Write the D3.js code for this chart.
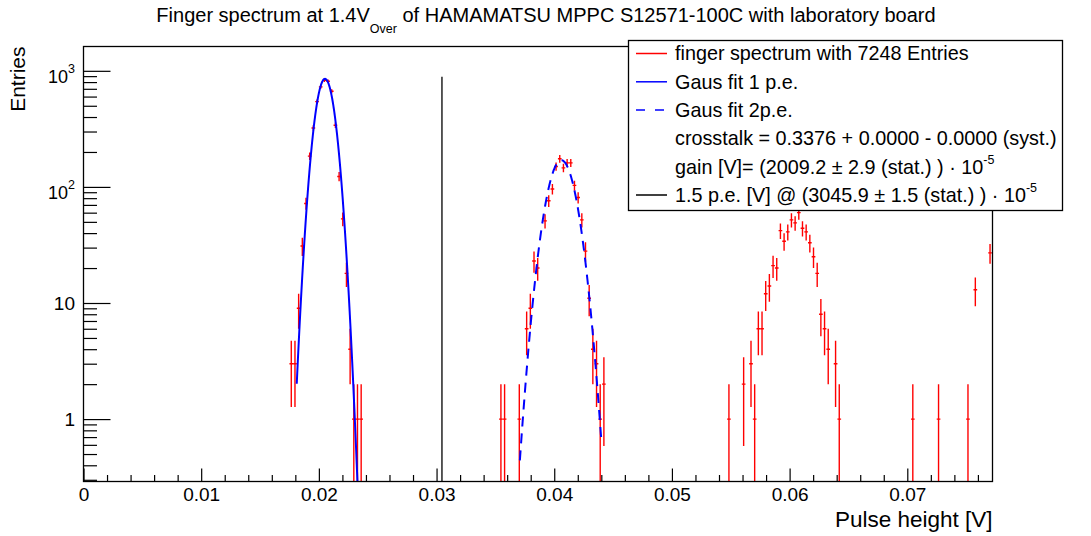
<!DOCTYPE html>
<html>
<head>
<meta charset="utf-8">
<script src="https://cdn.jsdelivr.net/npm/d3@7"></script>
<style>
  body { margin: 0; background: #fff; }
  svg { font-family: "Liberation Sans", Arial, Helvetica, sans-serif; }
</style>
</head>
<body>
<div id="chart"></div>
<script>
// histogram bins (bin centre in V, entries)
const binWidth = 0.0003125;
const pulseHeight = [
  0.017656, 0.017969, 0.018281, 0.018594, 0.018906, 0.019219, 0.019531, 0.019844, 0.020156, 0.020469,
  0.020781, 0.021094, 0.021406, 0.021719, 0.022031, 0.022344, 0.022656, 0.022969, 0.023281, 0.023594,
  0.035469, 0.035781, 0.037031, 0.037656, 0.037969, 0.038281, 0.038594, 0.039219, 0.039531, 0.039844,
  0.040156, 0.040469, 0.040781, 0.041094, 0.041406, 0.041719, 0.042031, 0.042344, 0.042656, 0.042969,
  0.043281, 0.043594, 0.043906, 0.044219,
  0.054844, 0.056094, 0.056719, 0.057031, 0.057344, 0.057656, 0.057969, 0.058281, 0.058594, 0.058906,
  0.059219, 0.059531, 0.059844, 0.060156, 0.060469, 0.060781, 0.061094, 0.061406, 0.061719, 0.062031,
  0.062344, 0.062656, 0.062969, 0.063281, 0.063906, 0.064219,
  0.070469, 0.072656, 0.075156, 0.075781, 0.077031
];
const entries = [
  3, 3, 9, 31, 72, 184, 322, 543, 728, 830,
  813, 667, 340, 123, 53, 18, 4, 1, 1, 1,
  1, 1, 1, 6, 9, 23, 20, 51, 76, 96,
  150, 175, 146, 161, 161, 103, 81, 52, 28, 11,
  4, 3, 1, 2,
  1, 2, 3, 1, 6, 6, 12, 14, 21, 20,
  42, 34, 41, 52, 49, 60, 44, 41, 33, 25,
  18, 8, 6, 4, 3, 1,
  1, 1, 1, 13, 27
];

// gaussian fits: [constant, mean, sigma, xmin, xmax]
const fit1pe = [853, 0.02052, 0.00069, 0.01812, 0.0236];
const fit2pe = [170, 0.0406, 0.00102, 0.03708, 0.04402];

// 1.5 p.e. threshold line
const threshold = 0.030459;
const thresholdTop = 890;

const xMajorTicks = [0, 0.01, 0.02, 0.03, 0.04, 0.05, 0.06, 0.07];
const xTickLabels = ["0", "0.01", "0.02", "0.03", "0.04", "0.05", "0.06", "0.07"];
const yMajorTicks = [1, 10, 100, 1000];
const yTickBase = ["1", "10", "10", "10"];
const yTickExp = ["", "", "2", "3"];

const legendLabels = [
  "finger spectrum with 7248 Entries",
  "Gaus fit 1 p.e.",
  "Gaus fit 2p.e.",
  "crosstalk = 0.3376 + 0.0000 - 0.0000 (syst.)",
  "gain [V]= (2009.2 \u00b1 2.9 (stat.) ) \u00b7 10",
  "1.5 p.e. [V] @ (3045.9 \u00b1 1.5 (stat.) ) \u00b7 10"
];

const W = 1091, H = 536;
const m = { left: 83.5, right: 992.5, top: 46.5, bottom: 481.5 };

const svg = d3.select("#chart").append("svg")
  .attr("width", W).attr("height", H);

const x = d3.scaleLinear().domain([0, 0.07724]).range([m.left, m.right]);
const y = d3.scaleLog().domain([0.29, 1620]).range([m.bottom, m.top]);

svg.append("clipPath").attr("id", "plot")
  .append("rect").attr("x", m.left).attr("y", m.top)
  .attr("width", m.right - m.left).attr("height", m.bottom - m.top);

// title
const title = svg.append("text")
  .attr("x", 546).attr("y", 22)
  .attr("text-anchor", "middle")
  .style("font-size", "20px");
title.append("tspan").text("Finger spectrum at 1.4V");
title.append("tspan").attr("dy", 11).style("font-size", "12.5px").text("Over");
title.append("tspan").attr("dy", -11).text(" of HAMAMATSU MPPC S12571-100C with laboratory board");

// minor ticks
const xMinor = d3.range(0, 0.0772, 0.002).filter(v => Math.abs(v / 0.01 - Math.round(v / 0.01)) > 1e-6);
svg.append("g").attr("transform", `translate(0,${m.bottom})`)
  .call(d3.axisBottom(x).tickValues(xMinor).tickSize(-6.5).tickSizeOuter(0).tickFormat(""))
  .call(g => g.select(".domain").remove());

const yMinor = [];
[0.1, 1, 10, 100, 1000].forEach(d => {
  for (let k = 2; k <= 9; k++) {
    const v = d * k;
    if (v >= 0.29 && v <= 1620) yMinor.push(v);
  }
});
svg.append("g").attr("transform", `translate(${m.left},0)`)
  .call(d3.axisLeft(y).tickValues(yMinor).tickSize(-13.5).tickSizeOuter(0).tickFormat(""))
  .call(g => g.select(".domain").remove());

// major ticks
svg.append("g").attr("transform", `translate(0,${m.bottom})`)
  .call(d3.axisBottom(x).tickValues(xMajorTicks).tickSize(-13).tickSizeOuter(0)
    .tickPadding(5.8).tickFormat((d, i) => xTickLabels[i]))
  .call(g => g.select(".domain").remove())
  .call(g => g.selectAll("text").style("font-size", "19px").attr("fill", "#000")
    .style("font-family", "'Liberation Sans', Arial, sans-serif"));

svg.append("g").attr("transform", `translate(${m.left},0)`)
  .call(d3.axisLeft(y).tickValues(yMajorTicks).tickSize(-27).tickSizeOuter(0).tickFormat(""))
  .call(g => g.select(".domain").remove());

svg.selectAll("g.tick line").attr("stroke", "#000").attr("stroke-width", 1.2);

// y tick labels with powers
const yLab = svg.append("g");
yMajorTicks.forEach((v, i) => {
  const t = yLab.append("text").attr("text-anchor", "end").attr("x", 75);
  if (yTickExp[i] === "") {
    t.attr("y", y(v) + 6.8).style("font-size", "19px").text(yTickBase[i]);
  } else {
    t.attr("y", y(v) + 11.7).style("font-size", "18px");
    t.append("tspan").text(yTickBase[i]);
    t.append("tspan").attr("dy", -10).style("font-size", "12.5px").text(yTickExp[i]);
  }
});

// axis titles
svg.append("text")
  .attr("text-anchor", "end")
  .attr("transform", `translate(25,${m.top}) rotate(-90)`)
  .style("font-size", "21px")
  .text("Entries");

svg.append("text")
  .attr("text-anchor", "end")
  .attr("x", m.right).attr("y", 527)
  .style("font-size", "22.5px")
  .text("Pulse height [V]");

// histogram with error bars
const plot = svg.append("g").attr("clip-path", "url(#plot)");
const bins = pulseHeight.map((p, i) => ({ x: p, n: entries[i] }));
const hist = plot.selectAll("g.bin").data(bins).enter().append("g")
  .attr("stroke", "#ff0000").attr("stroke-width", 1.4);
hist.append("line")
  .attr("x1", d => x(d.x)).attr("x2", d => x(d.x))
  .attr("y1", d => y(d.n + Math.sqrt(d.n)))
  .attr("y2", d => (d.n - Math.sqrt(d.n)) > 0 ? y(d.n - Math.sqrt(d.n)) : m.bottom + 5);
hist.append("line")
  .attr("x1", d => x(d.x - binWidth / 2)).attr("x2", d => x(d.x + binWidth / 2))
  .attr("y1", d => y(d.n)).attr("y2", d => y(d.n));

// fit curves
function gausPoints(p) {
  return d3.range(0, 301).map(i => {
    const xv = p[3] + (p[4] - p[3]) * i / 300;
    return [xv, p[0] * Math.exp(-0.5 * Math.pow((xv - p[1]) / p[2], 2))];
  });
}
const fitLine = d3.line()
  .x(d => x(d[0]))
  .y(d => Math.max(-1000, Math.min(m.bottom + 50, y(Math.max(d[1], 1e-6)))));

plot.append("path").attr("d", fitLine(gausPoints(fit1pe)))
  .attr("fill", "none").attr("stroke", "#0000ff").attr("stroke-width", 2);
plot.append("path").attr("d", fitLine(gausPoints(fit2pe)))
  .attr("fill", "none").attr("stroke", "#0000ff").attr("stroke-width", 2)
  .attr("stroke-dasharray", "10,7");

// 1.5 p.e. line
plot.append("line")
  .attr("x1", x(threshold)).attr("x2", x(threshold))
  .attr("y1", m.bottom).attr("y2", y(thresholdTop))
  .attr("stroke", "#000").attr("stroke-width", 1.3);

// frame
svg.append("rect")
  .attr("x", m.left).attr("y", m.top)
  .attr("width", m.right - m.left).attr("height", m.bottom - m.top)
  .attr("fill", "none").attr("stroke", "#000").attr("stroke-width", 1.3);

// legend
const lg = svg.append("g");
lg.append("rect")
  .attr("x", 628.5).attr("y", 40.5).attr("width", 434).attr("height", 170)
  .attr("fill", "#fff").attr("stroke", "#000").attr("stroke-width", 1.3);
const rowY = i => 53.5 + i * 28.3;
const sample = [
  { c: "#ff0000", dash: null },
  { c: "#0000ff", dash: null },
  { c: "#0000ff", dash: "9,10" },
  null,
  null,
  { c: "#000", dash: null }
];
legendLabels.forEach((t, i) => {
  const s = sample[i];
  if (s) {
    lg.append("line")
      .attr("x1", 636).attr("x2", 667)
      .attr("y1", rowY(i)).attr("y2", rowY(i))
      .attr("stroke", s.c).attr("stroke-width", 1.5)
      .attr("stroke-dasharray", s.dash);
  }
  const txt = lg.append("text")
    .attr("x", 675).attr("y", rowY(i) + 6.8)
    .style("font-size", "19.8px");
  txt.append("tspan").text(t);
  if (i >= 4) {
    txt.append("tspan").attr("dy", -10).style("font-size", "12.5px").text("-5");
  }
});
</script>
</body>
</html>
